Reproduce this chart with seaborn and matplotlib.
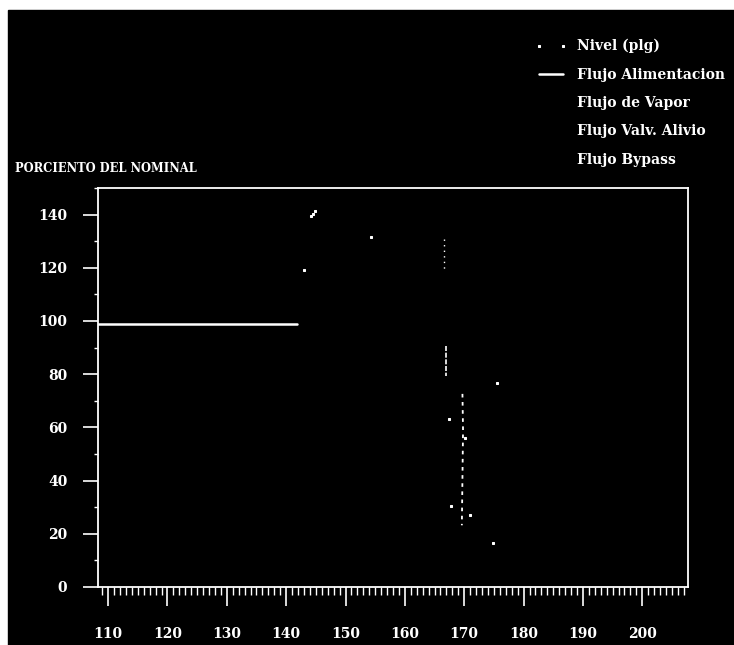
import numpy as np
import pandas as pd
import matplotlib.pyplot as plt
from matplotlib.patches import Rectangle
from matplotlib.ticker import MultipleLocator
import seaborn as sns

t_alim = [108.3, 141.8]
flujo_alim = [99, 99]

t_nivel = [143.0, 144.2, 144.5, 144.8, 154.3, 167.5, 167.7, 170.1, 170.9, 174.8, 175.5]
nivel = [119.0, 139.5, 140.4, 141.3, 131.4, 63.3, 30.3, 56.2, 27.0, 16.5, 76.7]

t_vapor = [166.6, 166.6]
flujo_vapor = [131.0, 119.0]

t_alivio = [167.0, 167.0]
flujo_alivio = [90.6, 79.4]

t_bypass = [169.7, 169.8, 169.6]
flujo_bypass = [72.6, 58.8, 23.2]

labels = ['Nivel (plg)', 'Flujo Alimentacion', 'Flujo de Vapor',
          'Flujo Valv. Alivio', 'Flujo Bypass']

sns.set_theme(style='ticks', rc={
    'figure.facecolor': 'white',
    'axes.facecolor': 'black',
    'axes.edgecolor': 'white',
    'axes.linewidth': 1.3,
    'text.color': 'white',
    'xtick.color': 'white',
    'ytick.color': 'white',
})
plt.rcParams['font.family'] = ['DejaVu Serif']
plt.rcParams['font.weight'] = 'bold'

fig = plt.figure(figsize=(7.34, 6.45), dpi=100)
# fondo negro del escaneo con borde blanco arriba e izquierda
fig.add_artist(Rectangle((8 / 734, 0), 1, (645 - 10) / 645,
                         transform=fig.transFigure, color='black', zorder=-10))
ax = fig.add_axes([98 / 734, 58 / 645, (688 - 98) / 734, (587 - 188) / 645])

sns.lineplot(x=t_nivel, y=nivel, ax=ax, color='white', marker='s', markersize=1.6,
             linestyle='', label=labels[0])
sns.lineplot(x=t_alim, y=flujo_alim, ax=ax, color='white', lw=1.8, label=labels[1])
sns.lineplot(x=t_vapor, y=flujo_vapor, ax=ax, color='white', lw=1.0,
             linestyle=(0, (1, 3)), sort=False, estimator=None, label=labels[2])
sns.lineplot(x=t_alivio, y=flujo_alivio, ax=ax, color='white', lw=1.2,
             linestyle=(0, (3, 1)), sort=False, estimator=None, label=labels[3])
sns.lineplot(x=t_bypass, y=flujo_bypass, ax=ax, color='white', lw=1.3,
             linestyle=(0, (2, 2.5)), sort=False, estimator=None, label=labels[4])

ax.set_xlim(108.3, 207.7)
ax.set_ylim(0, 150)
ax.xaxis.set_minor_locator(MultipleLocator(1))
ax.yaxis.set_major_locator(MultipleLocator(20))
ax.yaxis.set_minor_locator(MultipleLocator(10))
ax.set_xticks(np.arange(110, 201, 10))
ax.tick_params(axis='x', which='major', length=14, width=1.2, pad=15, labelsize=10)
ax.tick_params(axis='x', which='minor', length=6, width=1.0)
ax.tick_params(axis='y', which='major', length=11, width=1.2, pad=11, labelsize=10)
ax.tick_params(axis='y', which='minor', length=3, width=1.0)
for lab in ax.get_xticklabels() + ax.get_yticklabels():
    lab.set_fontweight('bold')
ax.set_xlabel('')
ax.set_ylabel('')

fig.text(15 / 734, (645 - 169) / 645, 'PORCIENTO DEL NOMINAL', fontsize=8.3,
         fontweight='bold', va='center', ha='left', color='white')

ax.get_legend().remove()
handles, labs = ax.get_legend_handles_labels()
leg = fig.legend(handles, labs, loc='upper left',
                 bbox_to_anchor=(535 / 734, (645 - 39) / 645),
                 frameon=False, borderpad=0, borderaxespad=0, numpoints=2,
                 handlelength=2.3, handletextpad=0.7, labelspacing=1.03,
                 prop={'family': 'DejaVu Serif', 'weight': 'bold', 'size': 10})
for txt in leg.get_texts():
    txt.set_color('white')
for h in leg.legend_handles[2:]:
    h.set_visible(False)

fig.savefig('out.png', dpi=100)
